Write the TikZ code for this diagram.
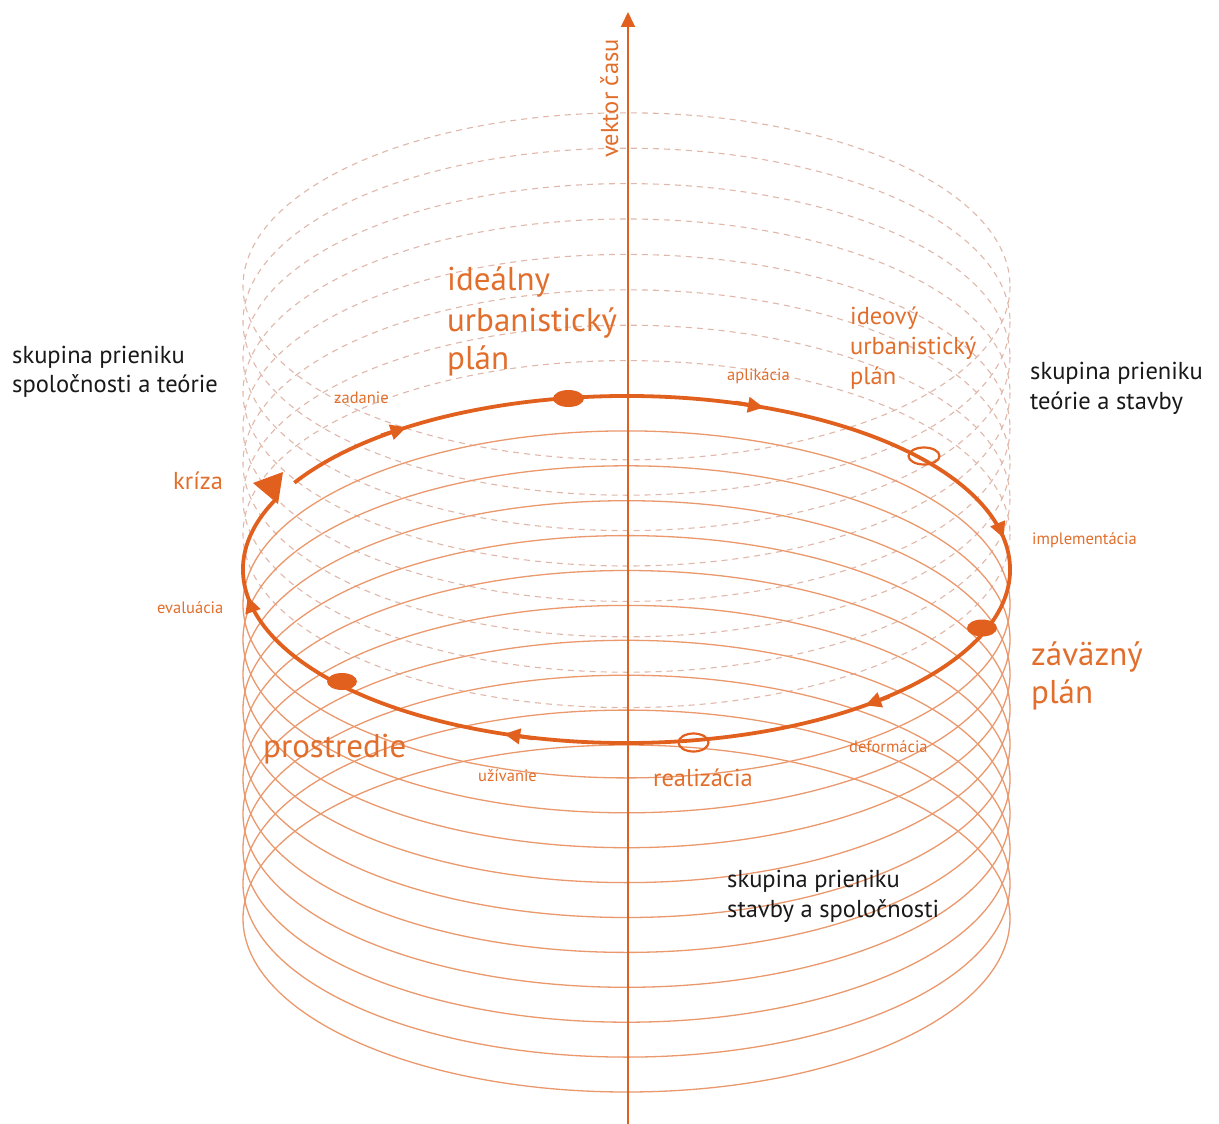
\documentclass[tikz,border=0pt]{standalone}
\usepackage{fontspec}
\setmainfont{PT Sans}
\usetikzlibrary{arrows.meta,calc}
\definecolor{mainor}{RGB}{226,96,30}
\definecolor{txtor}{RGB}{226,110,44}
\definecolor{thinor}{RGB}{234,152,108}
\definecolor{dashor}{RGB}{224,184,170}
\definecolor{blk}{RGB}{25,25,25}
\begin{document}
\begin{tikzpicture}[x=1pt,y=-1pt,
  dashring/.style={draw=dashor, line width=1.1pt, dash pattern=on 6pt off 5pt},
  solidring/.style={draw=thinor, line width=1.3pt},
  mainring/.style={draw=mainor, line width=3.8pt},
  axisline/.style={draw=mainor, line width=1.8pt, -{Triangle[length=15pt,width=14pt]}},
  midarrow/.style={draw=mainor, line width=3.8pt, -{Triangle[length=16pt,width=15pt]}},
  dotfill/.style={fill=mainor},
  dotopen/.style={draw=mainor, line width=2.2pt},
  lblbig/.style={inner sep=0pt, anchor=base west, text=txtor, font=\fontsize{33}{40}\selectfont},
  lblmid/.style={inner sep=0pt, anchor=base west, text=txtor, font=\fontsize{24.5}{29}\selectfont},
  lblsmall/.style={inner sep=0pt, anchor=base west, text=txtor, font=\fontsize{16.5}{20}\selectfont},
  lblblack/.style={inner sep=0pt, anchor=base west, text=blk, font=\fontsize{24.5}{29}\selectfont}
]
\useasboundingbox (0,0) rectangle (1219,1124);
\fill[white] (0,0) rectangle (1219,1124);
\def\cx{626.5}\def\cy{569.5}\def\rx{383.5}\def\ry{173.5}
% dashed rings above
\foreach \k in {1,...,8}
  \draw[dashring] (\cx,\cy-35.4*\k) ellipse [x radius=\rx, y radius=\ry];
% solid rings below
\foreach \k in {1,...,10}
  \draw[solidring] (\cx,\cy+34.9*\k) ellipse [x radius=\rx, y radius=\ry];
% time axis
\coordinate (axb) at (628,1124);
\coordinate (axt) at (628,12);
\draw[axisline] (axb) -- (axt);
\node[inner sep=0pt, anchor=base west, rotate=90, text=txtor, font=\fontsize{24.5}{29}\selectfont] (vek) at (618,158) {vektor času};
% main cycle
\draw[mainring] ($(\cx,\cy)+({\rx*cos(210)},{\ry*sin(210)})$) arc[start angle=210, end angle=564, x radius=\rx, y radius=\ry];
\fill[mainor] (253,483) -- (283,472) -- (278,504) -- cycle;
\foreach \a in {235,291,349.6,411.5,468.6,531}
  \draw[midarrow] ($(\cx,\cy)+({\rx*cos(\a)+0.08*\rx*sin(\a)},{\ry*sin(\a)-0.08*\ry*cos(\a)})$) -- ($(\cx,\cy)+({\rx*cos(\a)},{\ry*sin(\a)})$);
% markers
\fill[dotfill] (568.5,398.5) ellipse [x radius=15.5, y radius=8.5];
\fill[dotfill] (982,628) ellipse [x radius=15, y radius=8.5];
\fill[dotfill] (342,681.5) ellipse [x radius=15, y radius=8.5];
\draw[dotopen] (924,456) ellipse [x radius=15.5, y radius=8.5];
\draw[dotopen] (693.5,742.5) ellipse [x radius=15, y radius=9];
% labels
\node[lblblack] (sl1) at (12,363) {skupina prieniku};
\node[lblblack] (sl2) at (12,392) {spoločnosti a teórie};
\node[lblblack] (sr1) at (1030,379) {skupina prieniku};
\node[lblblack] (sr2) at (1030,409) {teórie a stavby};
\node[lblblack] (sb1) at (727,887) {skupina prieniku};
\node[lblblack] (sb2) at (727,917) {stavby a spoločnosti};
\node[lblbig] (iu1) at (447,290) {ideálny};
\node[lblbig] (iu2) at (447,331) {urbanistický};
\node[lblbig] (iu3) at (447,369) {plán};
\node[lblmid] (io1) at (850,324) {ideový};
\node[lblmid] (io2) at (850,354) {urbanistický};
\node[lblmid] (io3) at (850,384) {plán};
\node[lblbig] (zp1) at (1031,665) {záväzný};
\node[lblbig] (zp2) at (1031,703) {plán};
\node[lblbig] (pro) at (263,757) {prostredie};
\node[lblmid] (kri) at (173,489) {kríza};
\node[lblmid] (rea) at (653,786) {realizácia};
\node[lblsmall] (apl) at (727,380) {aplikácia};
\node[lblsmall] (zad) at (334,403) {zadanie};
\node[lblsmall] (imp) at (1032,544) {implementácia};
\node[lblsmall] (eva) at (157,613) {evaluácia};
\node[lblsmall] (uzi) at (478,781) {užívanie};
\node[lblsmall] (def) at (849,752) {deformácia};
\end{tikzpicture}
\end{document}
